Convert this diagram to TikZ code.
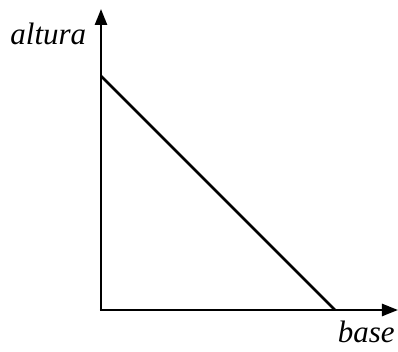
\documentclass[tikz,border=0pt]{standalone}
\usepackage{fontspec}
\setmainfont{Liberation Serif}
\usetikzlibrary{arrows.meta,positioning}
\tikzset{
  axis/.style={line width=1.25pt,-{Triangle[length=8pt,width=6pt]}},
  hyp/.style={line width=1.25pt},
  axlabel/.style={font=\fontsize{15.5}{18}\selectfont\itshape,inner sep=0pt}
}
\begin{document}
\begin{tikzpicture}[x=0.5pt,y=-0.5pt]
        \useasboundingbox (0,0) rectangle (398,352);
        \coordinate (O) at (101,310);
        \coordinate (ytop) at (101,9);
        \coordinate (xend) at (398,310);
        \coordinate (A) at (101,76);
        \coordinate (B) at (335,310);
        \draw[axis] (O) -- (ytop);
        \draw[axis] ([xshift=-0.6pt]O) -- (xend);
        \draw[hyp] (A) -- (B);
        \node[axlabel,anchor=base west] (alt) at (10,45) {altura};
        \node[axlabel,anchor=base east] (bas) at (395,343) {base};
      \end{tikzpicture}
\end{document}
